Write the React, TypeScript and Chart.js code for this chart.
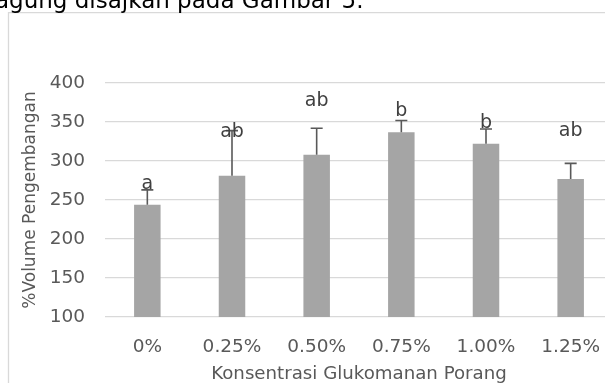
import React, { useEffect, useRef } from "react";
import { Chart, registerables } from "chart.js";

Chart.register(...registerables);

const categories = ["0%", "0.25%", "0.50%", "0.75%", "1.00%", "1.25%"];
const volume = [244, 281, 308, 337, 322, 277];
const errorPlus = [19, 58, 34, 15, 19, 20];
const letters = ["a", "ab", "ab", "b", "b", "ab"];
const letterBaseline = [263.5, 330.5, 370, 358, 342.5, 332.5];
const yTicks = [100, 150, 200, 250, 300, 350, 400];
const xTitle = "Konsentrasi Glukomanan Porang";
const yTitle = "%Volume Pengembangan";
const captionText = "agung disajkan pada Gambar 5.";

const FONT = '"DejaVu Sans", sans-serif';

const decorPlugin = {
  id: "decor",
  beforeDraw(chart: any) {
    const ctx = chart.ctx;
    ctx.save();
    ctx.fillStyle = "#ffffff";
    ctx.fillRect(0, 0, chart.width, chart.height);
    // frame of the embedded chart
    ctx.strokeStyle = "#d9d9d9";
    ctx.lineWidth = 1.3;
    ctx.beginPath();
    ctx.moveTo(8.5, chart.height + 2);
    ctx.lineTo(8.5, 12.7);
    ctx.lineTo(chart.width + 2, 12.7);
    ctx.stroke();
    // clipped document text above
    ctx.fillStyle = "#000000";
    ctx.font = "23px " + FONT;
    ctx.textAlign = "left";
    ctx.textBaseline = "alphabetic";
    ctx.fillText(captionText, -5, 7.5);
    ctx.restore();
  },
  afterDatasetsDraw(chart: any) {
    const ctx = chart.ctx;
    const xs = chart.scales.x;
    const ys = chart.scales.y;
    ctx.save();
    ctx.strokeStyle = "#595959";
    ctx.lineWidth = 1.6;
    volume.forEach((v, i) => {
      const x = xs.getPixelForValue(i);
      const y0 = ys.getPixelForValue(v);
      const y1 = ys.getPixelForValue(v + errorPlus[i]);
      ctx.beginPath();
      ctx.moveTo(x, y0);
      ctx.lineTo(x, y1);
      ctx.moveTo(x - 6, y1);
      ctx.lineTo(x + 6, y1);
      ctx.stroke();
    });
    ctx.fillStyle = "#404040";
    ctx.font = "19px " + FONT;
    ctx.textAlign = "center";
    ctx.textBaseline = "alphabetic";
    letters.forEach((t, i) => {
      const x = xs.getPixelForValue(i);
      const y = ys.getPixelForValue(letterBaseline[i]);
      ctx.fillText(t, x, y);
    });
    ctx.restore();
  },
};

export default function App() {
  const ref = useRef<HTMLCanvasElement | null>(null);
  useEffect(() => {
    document.body.style.margin = "0";
    const canvas = ref.current!;
    const chart = new Chart(canvas, {
      type: "bar",
      data: {
        labels: categories,
        datasets: [
          {
            data: volume,
            backgroundColor: "#a5a5a5",
            borderWidth: 0,
            categoryPercentage: 1,
            barPercentage: 0.313,
          },
        ],
      },
      options: {
        responsive: false,
        animation: false,
        devicePixelRatio: 1,
        layout: { padding: { left: 0, top: 83, right: 27, bottom: 0 } },
        plugins: {
          legend: { display: false },
          tooltip: { enabled: false },
        },
        scales: {
          x: {
            grid: { display: false, drawTicks: false },
            border: { display: false },
            ticks: {
              color: "#595959",
              font: { family: FONT, size: 18.5, lineHeight: 1.2 },
              padding: 19,
              maxRotation: 0,
              autoSkip: false,
            },
            title: {
              display: true,
              text: xTitle,
              color: "#595959",
              font: { family: FONT, size: 18.2, lineHeight: 1 },
              padding: { top: 0, bottom: 0 },
            },
            afterFit: (s: any) => {
              s.height = 66;
            },
          },
          y: {
            min: 100,
            max: 400,
            afterBuildTicks: (s: any) => {
              s.ticks = yTicks.map((v) => ({ value: v }));
            },
            grid: { color: "#d9d9d9", lineWidth: 1.3, drawTicks: false },
            border: { display: false },
            ticks: {
              color: "#595959",
              font: { family: FONT, size: 18.5, lineHeight: 1.2 },
              padding: 20,
            },
            title: {
              display: true,
              text: yTitle,
              color: "#595959",
              font: { family: FONT, size: 17, lineHeight: 1.2 },
              padding: { top: 20, bottom: 0 },
            },
            afterFit: (s: any) => {
              s.width = 105;
            },
          },
        },
      },
      plugins: [decorPlugin],
    });
    return () => chart.destroy();
  }, []);
  return (
    <div
      style={{
        position: "fixed",
        left: 0,
        top: 0,
        width: 605,
        height: 383,
        overflow: "hidden",
        background: "#fff",
      }}
    >
      <canvas ref={ref} width={640} height={383} style={{ width: 640, height: 383, display: "block" }} />
    </div>
  );
}
